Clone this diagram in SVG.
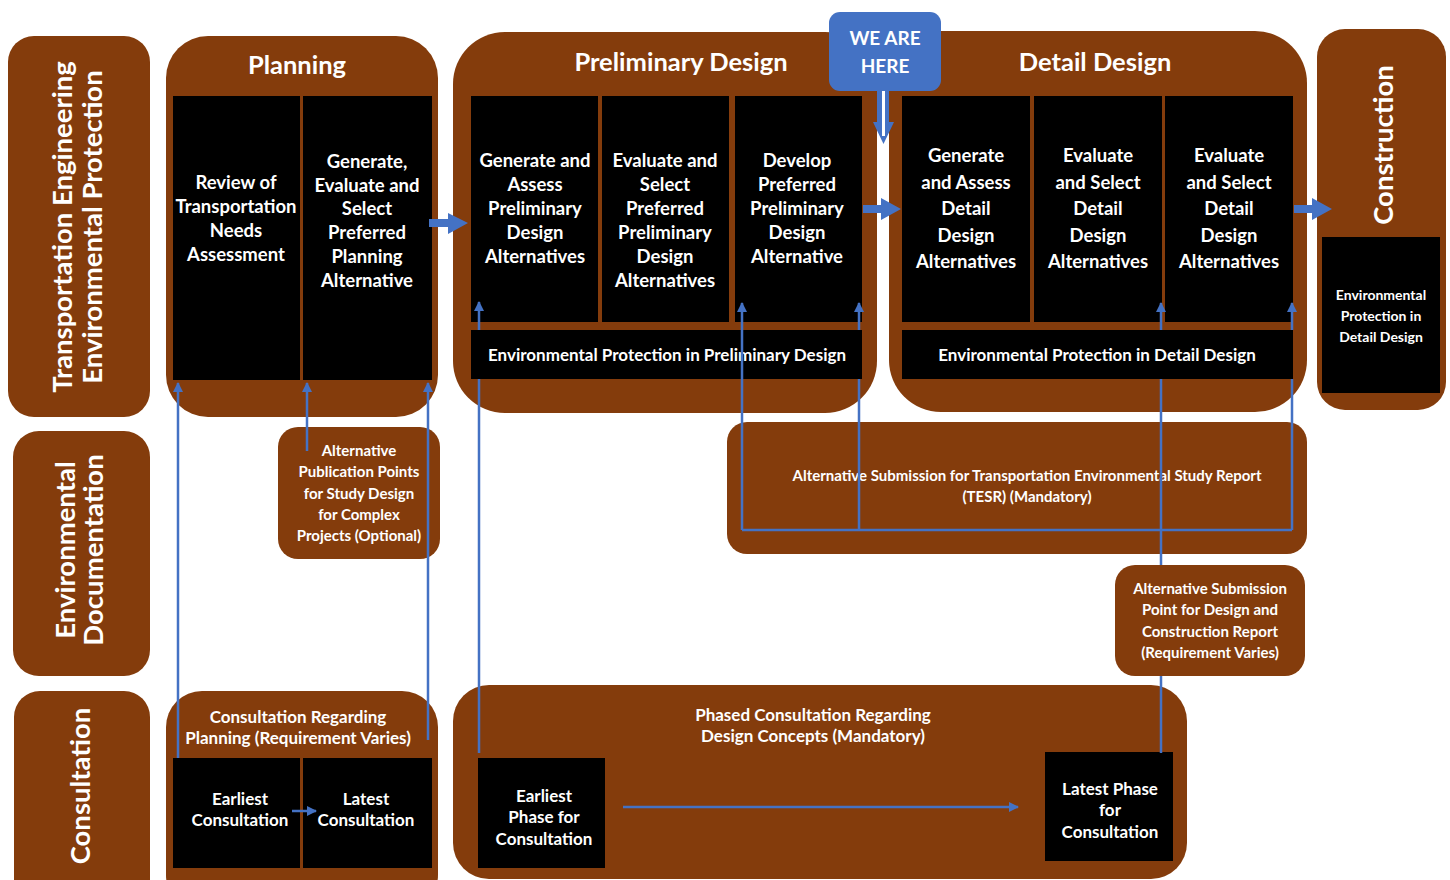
<svg xmlns="http://www.w3.org/2000/svg" width="1450" height="880" viewBox="0 0 1450 880">
  <defs>
    <style>
      .panel { fill: #843C0C; }
      .cell { fill: #000000; }
      .tag { fill: #4472C4; }
      text { font-family: Lato, "Open Sans", "Liberation Sans", sans-serif; font-weight: bold; fill: #FFFFFF; text-anchor: middle; }
      .title { font-size: 25.5px; }
      .side { font-size: 27.5px; }
      .step { font-size: 18.5px; }
      .bar { font-size: 17px; }
      .note { font-size: 15px; }
      .cons { font-size: 17px; }
      .here { font-size: 19px; }
      .link { fill: none; stroke: #4472C4; stroke-width: 2.5; }
      .flow { fill: #4472C4; }
    </style>
    <marker id="tip" viewBox="0 0 10 10" refX="9" refY="5" markerWidth="4" markerHeight="4" orient="auto" markerUnits="strokeWidth">
      <path d="M0,0 L10,5 L0,10 Z" fill="#4472C4"/>
    </marker>
  </defs>
  <rect width="1450" height="880" fill="#FFFFFF"/>

  <!-- Row headers -->
  <g id="hdr-engineering">
    <rect class="panel" x="8" y="36" width="142" height="381" rx="26"/>
    <text class="side" transform="translate(72,227) rotate(-90)">Transportation Engineering</text>
    <text class="side" transform="translate(102,227) rotate(-90)">Environmental Protection</text>
  </g>
  <g id="hdr-documentation">
    <rect class="panel" x="13" y="431" width="137" height="245" rx="26"/>
    <text class="side" transform="translate(75,550) rotate(-90)">Environmental</text>
    <text class="side" transform="translate(103,550) rotate(-90)">Documentation</text>
  </g>
  <g id="hdr-consultation">
    <rect class="panel" x="14" y="691" width="136" height="220" rx="26"/>
    <text class="side" transform="translate(90,786) rotate(-90)">Consultation</text>
  </g>

  <!-- Planning phase -->
  <g id="planning">
    <rect class="panel" x="166" y="36" width="272" height="381" rx="42"/>
    <text class="title" x="297" y="74">Planning</text>
    <rect class="cell" x="173" y="96" width="127" height="284"/>
    <rect class="cell" x="303" y="96" width="129" height="284"/>
    <text class="step" x="236" y="189">Review of</text>
    <text class="step" x="236" y="213">Transportation</text>
    <text class="step" x="236" y="237">Needs</text>
    <text class="step" x="236" y="261">Assessment</text>
    <text class="step" x="367" y="168">Generate,</text>
    <text class="step" x="367" y="192">Evaluate and</text>
    <text class="step" x="367" y="215">Select</text>
    <text class="step" x="367" y="239">Preferred</text>
    <text class="step" x="367" y="263">Planning</text>
    <text class="step" x="367" y="287">Alternative</text>
  </g>

  <!-- Preliminary design phase -->
  <g id="preliminary-design">
    <rect class="panel" x="453" y="32" width="424" height="381" rx="52"/>
    <text class="title" x="681" y="71">Preliminary Design</text>
    <rect class="cell" x="471" y="96" width="127" height="226"/>
    <rect class="cell" x="602" y="96" width="127" height="226"/>
    <rect class="cell" x="735" y="96" width="127" height="226"/>
    <text class="step" x="535" y="167">Generate and</text>
    <text class="step" x="535" y="191">Assess</text>
    <text class="step" x="535" y="215">Preliminary</text>
    <text class="step" x="535" y="239">Design</text>
    <text class="step" x="535" y="263">Alternatives</text>
    <text class="step" x="665" y="167">Evaluate and</text>
    <text class="step" x="665" y="191">Select</text>
    <text class="step" x="665" y="215">Preferred</text>
    <text class="step" x="665" y="239">Preliminary</text>
    <text class="step" x="665" y="263">Design</text>
    <text class="step" x="665" y="287">Alternatives</text>
    <text class="step" x="797" y="167">Develop</text>
    <text class="step" x="797" y="191">Preferred</text>
    <text class="step" x="797" y="215">Preliminary</text>
    <text class="step" x="797" y="239">Design</text>
    <text class="step" x="797" y="263">Alternative</text>
    <rect class="cell" x="471" y="330" width="391" height="49"/>
    <text class="bar" x="667" y="361">Environmental Protection in Preliminary Design</text>
  </g>

  <!-- Detail design phase -->
  <g id="detail-design">
    <rect class="panel" x="889" y="31" width="418" height="381" rx="52"/>
    <text class="title" x="1095" y="71">Detail Design</text>
    <rect class="cell" x="902" y="96" width="128" height="226"/>
    <rect class="cell" x="1034" y="96" width="128" height="226"/>
    <rect class="cell" x="1165" y="96" width="128" height="226"/>
    <text class="step" x="966" y="162">Generate</text>
    <text class="step" x="966" y="189">and Assess</text>
    <text class="step" x="966" y="215">Detail</text>
    <text class="step" x="966" y="242">Design</text>
    <text class="step" x="966" y="268">Alternatives</text>
    <text class="step" x="1098" y="162">Evaluate</text>
    <text class="step" x="1098" y="189">and Select</text>
    <text class="step" x="1098" y="215">Detail</text>
    <text class="step" x="1098" y="242">Design</text>
    <text class="step" x="1098" y="268">Alternatives</text>
    <text class="step" x="1229" y="162">Evaluate</text>
    <text class="step" x="1229" y="189">and Select</text>
    <text class="step" x="1229" y="215">Detail</text>
    <text class="step" x="1229" y="242">Design</text>
    <text class="step" x="1229" y="268">Alternatives</text>
    <rect class="cell" x="902" y="330" width="391" height="49"/>
    <text class="bar" x="1097" y="361">Environmental Protection in Detail Design</text>
  </g>

  <!-- Construction phase -->
  <g id="construction">
    <rect class="panel" x="1317" y="29" width="129" height="381" rx="28"/>
    <text class="side" transform="translate(1393,145) rotate(-90)">Construction</text>
    <rect class="cell" x="1322" y="237" width="118" height="156"/>
    <text class="note" style="font-size:14px" x="1381" y="300">Environmental</text>
    <text class="note" style="font-size:14px" x="1381" y="321">Protection in</text>
    <text class="note" style="font-size:14px" x="1381" y="342">Detail Design</text>
  </g>

  <!-- Documentation points -->
  <g id="publication-points">
    <rect class="panel" x="278" y="427" width="162" height="132" rx="20"/>
    <text class="note" x="359" y="456">Alternative</text>
    <text class="note" x="359" y="477">Publication Points</text>
    <text class="note" x="359" y="499">for Study Design</text>
    <text class="note" x="359" y="520">for Complex</text>
    <text class="note" x="359" y="541">Projects (Optional)</text>
  </g>
  <g id="tesr-submission">
    <rect class="panel" x="727" y="422" width="580" height="132" rx="20"/>
    <text class="note" x="1027" y="481">Alternative Submission for Transportation Environmental Study Report</text>
    <text class="note" x="1027" y="502">(TESR) (Mandatory)</text>
  </g>
  <g id="dcr-submission">
    <rect class="panel" x="1115" y="565" width="190" height="111" rx="20"/>
    <text class="note" x="1210" y="594">Alternative Submission</text>
    <text class="note" x="1210" y="615">Point for Design and</text>
    <text class="note" x="1210" y="637">Construction Report</text>
    <text class="note" x="1210" y="658">(Requirement Varies)</text>
  </g>

  <!-- Consultation -->
  <g id="planning-consultation">
    <rect class="panel" x="166" y="691" width="272" height="220" rx="36"/>
    <text class="cons" x="298" y="723">Consultation Regarding</text>
    <text class="cons" x="298" y="744">Planning (Requirement Varies)</text>
    <rect class="cell" x="173" y="758" width="127" height="110"/>
    <rect class="cell" x="303" y="758" width="129" height="110"/>
    <text class="cons" x="240" y="805">Earliest</text>
    <text class="cons" x="240" y="826">Consultation</text>
    <text class="cons" x="366" y="805">Latest</text>
    <text class="cons" x="366" y="826">Consultation</text>
  </g>
  <g id="design-consultation">
    <rect class="panel" x="453" y="685" width="734" height="194" rx="36"/>
    <text class="cons" x="813" y="721">Phased Consultation Regarding</text>
    <text class="cons" x="813" y="742">Design Concepts (Mandatory)</text>
    <rect class="cell" x="478" y="758" width="127" height="110"/>
    <rect class="cell" x="1045" y="752" width="128" height="109"/>
    <text class="cons" x="544" y="802">Earliest</text>
    <text class="cons" x="544" y="823">Phase for</text>
    <text class="cons" x="544" y="845">Consultation</text>
    <text class="cons" x="1110" y="795">Latest Phase</text>
    <text class="cons" x="1110" y="816">for</text>
    <text class="cons" x="1110" y="838">Consultation</text>
  </g>

  <!-- Current-stage marker -->
  <g id="we-are-here">
    <rect class="tag" x="829" y="12" width="112" height="79" rx="11"/>
    <text class="here" x="885" y="45">WE ARE</text>
    <text class="here" x="885" y="73">HERE</text>
  </g>

  <!-- Connectors -->
  <g id="connectors">
    <!-- phase-to-phase flow arrows -->
    <path class="flow" d="M429,219 H448 V213 L468,223 L448,234 V227 H429 Z"/>
    <path class="flow" d="M863,205 H881 V198 L901,209 L881,220 V213 H863 Z"/>
    <path class="flow" d="M1294,205 H1312 V198 L1332,209 L1312,220 V213 H1294 Z"/>
    <!-- marker arrow from the current-stage tag -->
    <path class="flow" d="M877,91 H889 V122 H894 L883.5,144 L873,122 H877 Z"/>
    <line x1="883.5" y1="91" x2="883.5" y2="136" stroke="#FFFFFF" stroke-width="3"/>

    <!-- planning links -->
    <path class="link" marker-end="url(#tip)" d="M178,758 V383"/>
    <path class="link" marker-end="url(#tip)" d="M307,451 V383"/>
    <path class="link" marker-end="url(#tip)" d="M428,740 V383"/>
    <path class="link" marker-end="url(#tip)" d="M292,811 H316"/>

    <!-- preliminary design links -->
    <path class="link" marker-end="url(#tip)" d="M479,753 V379 M479,330 V302"/>
    <path class="link" marker-end="url(#tip)" d="M742,530 V303"/>
    <path class="link" marker-end="url(#tip)" d="M859,530 V379 M859,330 V303"/>

    <!-- detail design links -->
    <path class="link" marker-end="url(#tip)" d="M1161,753 V676 M1161,565 V379 M1161,330 V303"/>
    <path class="link" marker-end="url(#tip)" d="M1292,530 V379 M1292,330 V303"/>
    <path class="link" d="M742,530 H1292"/>

    <!-- phased consultation -->
    <path class="link" marker-end="url(#tip)" d="M623,807 H1018"/>
  </g>
</svg>
